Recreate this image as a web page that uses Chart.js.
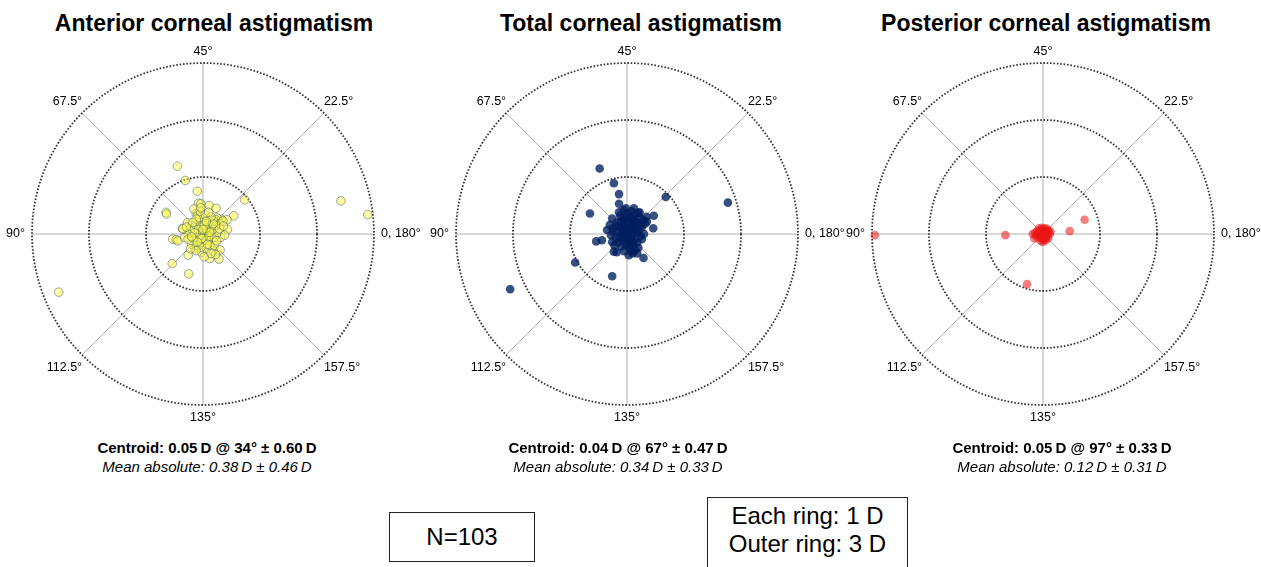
<!DOCTYPE html>
<html>
<head>
<meta charset="utf-8">
<script src="https://cdn.jsdelivr.net/npm/chart.js@4.4.1/dist/chart.umd.min.js"></script>
<style>
    body { margin: 0; width: 1261px; height: 567px; overflow: hidden; background: #fff;
           font-family: "Liberation Sans", Arial, sans-serif; position: relative; }
    canvas { position: absolute; top: 34px; }
    .titulo { position: absolute; top: 12px; width: 440px; text-align: center;
              font-size: 23px; line-height: 23px; font-weight: bold; color: #000; white-space: nowrap; }
    .stat { position: absolute; width: 400px; text-align: center; font-size: 15px; line-height: 15px;
            color: #000; white-space: nowrap; }
    .stat.b { top: 440px; font-weight: bold; }
    .stat.i { top: 459px; font-style: italic; }
    .caixa { position: absolute; border: 1.5px solid #222; box-sizing: border-box; font-size: 24px;
             color: #000; text-align: center; }
</style>
</head>
<body>

<div class="titulo" style="left:-6px">Anterior corneal astigmatism</div>
<div class="titulo" style="left:421px">Total corneal astigmatism</div>
<div class="titulo" style="left:826px">Posterior corneal astigmatism</div>

<canvas id="g1" width="440" height="400" style="left:-17px"></canvas>
<canvas id="g2" width="440" height="400" style="left:407px"></canvas>
<canvas id="g3" width="440" height="400" style="left:823px"></canvas>

<div id="stats"></div>

<div class="caixa" style="left:389px; top:512px; width:146px; height:50px; line-height:47px;">N=103</div>
<div class="caixa" style="left:707px; top:497px; width:201px; height:80px; line-height:28px; padding-top:4px;">Each ring: 1 D<br>Outer ring: 3 D</div>

<script>
// rings in dioptres, spokes and their labels (double-angle plot)
const ringValues = [1, 2, 3];
const spokeAngles = [0, 45, 90, 135, 180, 225, 270, 315];
const angleLabels = ["0, 180°", "22.5°", "45°", "67.5°", "90°", "112.5°", "135°", "157.5°"];

const titles = ["Anterior corneal astigmatism", "Total corneal astigmatism", "Posterior corneal astigmatism"];
const centroidText = ["Centroid: 0.05\u2009D @ 34° ± 0.60\u2009D",
                      "Centroid: 0.04\u2009D @ 67° ± 0.47\u2009D",
                      "Centroid: 0.05\u2009D @ 97° ± 0.33\u2009D"];
const meanAbsText = ["Mean absolute: 0.38\u2009D ± 0.46\u2009D",
                     "Mean absolute: 0.34\u2009D ± 0.33\u2009D",
                     "Mean absolute: 0.12\u2009D ± 0.31\u2009D"];

// [x, y] in D
const anteriorPts = [
    [-0.45, 1.19], [-0.31, 0.94], [-0.10, 0.75], [0.73, 0.60], [-0.65, 0.38], [-0.64, 0.35],
    [2.42, 0.58], [2.89, 0.34], [-2.53, -1.02], [-0.54, -0.52], [-0.25, -0.70],
    [-0.53, -0.09], [-0.47, -0.10], [-0.44, -0.12],
    [-0.08, 0.54], [-0.04, 0.53], [0.11, 0.50], [0.23, 0.45], [-0.12, 0.36], [-0.09, 0.35],
    [0.54, 0.32], [0.42, 0.25], [0.32, 0.26], [0.25, 0.28], [0.22, 0.25], [0.43, 0.08],
    [-0.27, 0.20], [-0.36, 0.10], [0.31, -0.06], [-0.26, -0.37], [0.12, -0.43], [0.28, -0.44],
    [-0.14, -0.26], [-0.03, -0.32], [0.18, -0.29],
    [-0.23, 0.09], [-0.18, 0.06], [-0.12, 0.15], [-0.06, 0.20], [-0.03, 0.12], [0.00, 0.03],
    [0.03, -0.03], [0.06, 0.06], [0.12, 0.12], [0.15, 0.00], [-0.09, -0.06], [-0.15, -0.09],
    [-0.20, -0.18], [-0.12, -0.20], [-0.03, -0.15], [0.06, -0.12], [0.15, -0.09], [0.20, -0.06],
    [0.26, 0.03], [0.18, 0.09], [0.09, 0.18], [0.03, 0.23], [-0.06, 0.29], [-0.12, 0.26],
    [-0.18, 0.20], [-0.26, 0.00], [-0.32, -0.06], [-0.26, -0.09], [0.06, -0.26], [-0.03, -0.23],
    [-0.12, -0.29], [0.12, -0.20], [0.20, -0.20], [0.23, 0.15], [0.29, 0.18], [0.35, 0.23],
    [0.18, 0.23], [0.29, 0.09], [-0.35, 0.09], [-0.29, 0.12],
    [0.05, 0.10], [-0.05, -0.02], [0.10, -0.05], [-0.08, 0.08], [0.02, 0.15], [0.12, 0.03],
    [-0.15, 0.02], [0.08, -0.18], [-0.02, -0.08], [0.00, 0.08], [0.18, 0.18], [-0.10, -0.14],
    [0.24, -0.12], [-0.20, -0.05], [0.04, 0.33], [0.14, 0.30], [-0.22, -0.26], [0.36, 0.14],
    [0.10, 0.38], [-0.05, 0.40], [0.30, -0.28], [0.22, -0.36], [-0.16, 0.44], [0.02, -0.40],
    [0.38, -0.02], [-0.04, 0.46], [0.14, -0.34], [0.06, 0.22]
];

const totalPts = [
    [-0.48, 1.15], [-0.23, 0.89], [-0.14, 0.70], [0.68, 0.65], [1.77, 0.55], [-0.65, 0.36],
    [-0.54, -0.13], [-0.44, -0.11], [-0.91, -0.50], [-2.05, -0.97], [-0.26, -0.74],
    [-0.14, 0.53], [-0.06, 0.42], [0.12, 0.45], [0.20, 0.37], [0.47, 0.32], [0.46, 0.10],
    [0.35, 0.22], [-0.26, 0.27], [-0.35, 0.07], [0.26, -0.09], [0.29, -0.42], [-0.23, -0.31],
    [0.03, -0.37], [0.18, -0.34],
    [0.00, 0.00], [0.05, 0.05], [-0.05, 0.05], [-0.08, -0.04], [0.08, -0.06], [0.12, 0.10],
    [-0.12, 0.12], [0.02, 0.18], [-0.02, -0.15], [0.15, 0.22], [-0.18, 0.20], [0.20, 0.05],
    [-0.20, -0.08], [0.10, -0.20], [-0.10, -0.22], [0.06, 0.30], [-0.06, 0.28], [0.25, 0.15],
    [-0.25, 0.10], [0.18, -0.15], [-0.15, -0.15], [0.00, 0.10], [0.10, 0.00], [-0.10, 0.00],
    [0.00, -0.08], [0.22, 0.28], [-0.12, 0.32], [0.15, -0.28], [-0.05, -0.30], [0.08, 0.40],
    [0.30, 0.00], [-0.28, -0.02], [0.04, -0.24], [0.12, 0.18], [-0.08, 0.18], [0.28, 0.25],
    [-0.16, 0.04], [0.16, 0.08], [0.00, 0.22], [-0.22, -0.20], [0.10, -0.34], [-0.02, 0.45],
    [0.34, 0.30], [0.04, -0.12], [-0.04, 0.12],
    [0.02, 0.02], [-0.03, -0.03], [0.07, 0.12], [-0.07, 0.08], [0.13, -0.10], [-0.13, -0.06],
    [0.19, 0.15], [-0.19, 0.14], [0.05, -0.18], [-0.05, 0.24], [0.24, -0.04], [-0.24, 0.04],
    [0.09, 0.26], [-0.09, -0.10], [0.14, 0.34], [-0.14, 0.38], [0.20, -0.24], [-0.18, -0.32],
    [0.01, 0.36], [0.26, 0.12], [-0.30, 0.16], [0.11, -0.14], [-0.11, 0.22], [0.17, 0.02],
    [-0.01, -0.20], [0.06, 0.08], [-0.06, -0.06], [0.22, 0.38], [0.08, -0.30], [-0.26, -0.14],
    [0.32, 0.18], [0.00, 0.30], [0.12, 0.26]
];

const posteriorPts = [
    [-2.95, -0.02], [-0.66, -0.02], [0.47, 0.05], [0.73, 0.25], [-0.28, -0.88],
    [-0.18, 0.00], [-0.15, -0.08],
    [0.00, 0.00], [0.02, 0.03], [-0.03, 0.02], [0.04, -0.02], [-0.02, -0.04], [0.06, 0.05],
    [-0.06, 0.04], [0.05, -0.06], [-0.05, -0.05], [0.08, 0.01], [-0.08, 0.00], [0.00, 0.08],
    [0.01, -0.08], [0.10, 0.06], [-0.10, 0.05], [0.09, -0.07], [-0.09, -0.06], [0.03, 0.10],
    [-0.02, 0.11], [0.02, -0.11], [-0.04, -0.12], [0.12, 0.00], [-0.12, -0.02], [0.07, 0.09],
    [-0.07, 0.10], [0.06, -0.10], [0.00, -0.14], [0.13, 0.04], [-0.14, 0.02], [0.04, 0.05],
    [0.01, 0.01], [-0.01, 0.02], [0.03, -0.04], [-0.04, 0.06], [0.05, 0.02], [-0.03, -0.07]
];

const datasets = [anteriorPts, totalPts, posteriorPts];
const pointFill = ["rgba(255,255,70,0.5)", "rgba(0,30,95,0.78)", "rgba(235,20,20,0.55)"];
const pointLine = ["rgba(60,80,110,0.5)", "rgba(0,30,95,0.0)", "rgba(235,20,20,0.0)"];
const statCenter = [207, 618, 1062];

const polarGrid = {
    id: "polarGrid",
    beforeDatasetsDraw(chart) {
        const { ctx, scales: { x, y } } = chart;
        const cx = x.getPixelForValue(0), cy = y.getPixelForValue(0);
        const R = x.getPixelForValue(ringValues[ringValues.length - 1]) - cx;
        ctx.save();
        ctx.strokeStyle = "#b0b0b0";
        ctx.lineWidth = 1;
        spokeAngles.forEach(a => {
            const t = a * Math.PI / 180;
            ctx.beginPath();
            ctx.moveTo(cx, cy);
            ctx.lineTo(cx + R * Math.cos(t), cy - R * Math.sin(t));
            ctx.stroke();
        });
        ctx.strokeStyle = "#333";
        ctx.lineWidth = 1.8;
        ctx.setLineDash([1.6, 1.8]);
        ringValues.forEach(d => {
            ctx.beginPath();
            ctx.arc(cx, cy, x.getPixelForValue(d) - cx, 0, Math.PI * 2);
            ctx.stroke();
        });
        ctx.restore();
    },
    afterDraw(chart) {
        const { ctx, scales: { x, y } } = chart;
        const cx = x.getPixelForValue(0), cy = y.getPixelForValue(0);
        const R = x.getPixelForValue(ringValues[ringValues.length - 1]) - cx;
        ctx.save();
        ctx.font = '12.5px "Liberation Sans", Arial, sans-serif';
        ctx.fillStyle = "#000";
        spokeAngles.forEach((a, i) => {
            const t = a * Math.PI / 180;
            const c = Math.cos(t), s = Math.sin(t);
            let px = cx + R * c, py = cy - R * s;
            ctx.textAlign = c > 0.1 ? "left" : c < -0.1 ? "right" : "center";
            ctx.textBaseline = s > 0.1 ? "alphabetic" : s < -0.1 ? "top" : "middle";
            if (Math.abs(s) < 0.1) px += 7 * Math.sign(c);
            else py -= (s > 0 ? 8 : 6) * Math.sign(s);
            ctx.fillText(angleLabels[i], px, py);
        });
        ctx.restore();
    }
};

const statsDiv = document.getElementById("stats");
datasets.forEach((pts, i) => {
    statsDiv.innerHTML += `
        <div class="stat b" style="left:${statCenter[i] - 200}px">${centroidText[i]}</div>
        <div class="stat i" style="left:${statCenter[i] - 200}px">${meanAbsText[i]}</div>
    `;

    new Chart(document.getElementById("g" + (i + 1)), {
        type: "scatter",
        data: {
            datasets: [{
                label: titles[i],
                data: pts.map(p => ({ x: p[0], y: p[1] })),
                backgroundColor: pointFill[i],
                borderColor: pointLine[i],
                borderWidth: i === 0 ? 1 : 0,
                pointRadius: 4.3,
                clip: false
            }]
        },
        options: {
            responsive: false, animation: false,
            layout: { padding: { left: 49, right: 49, top: 29, bottom: 29 } },
            plugins: { legend: { display: false }, tooltip: { enabled: false } },
            scales: {
                x: { type: "linear", min: -3, max: 3, display: false },
                y: { type: "linear", min: -3, max: 3, display: false }
            }
        },
        plugins: [polarGrid]
    });
});
</script>
</body>
</html>
